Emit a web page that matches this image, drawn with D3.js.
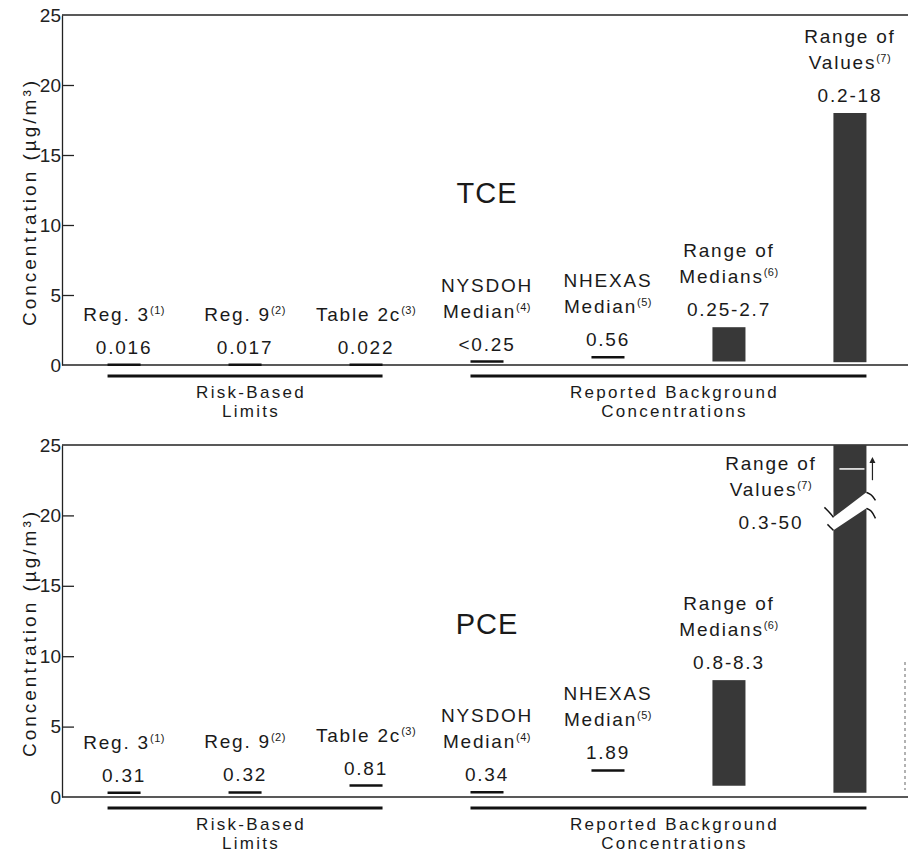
<!DOCTYPE html>
<meta charset="utf-8">
<style>
 body { margin: 0; background: #fff; }
 text {
     font-family: "Liberation Sans", Arial, sans-serif;
     fill: #1a1a1a;
 }
 .lbl { font-size: 19px; letter-spacing: 1.8px; }
 .grp { font-size: 17px; letter-spacing: 2.3px; }
 .ylab { font-size: 19px; letter-spacing: 3px; }
 .tick text { font-size: 19px; fill: #222; }
 .tick line { stroke: #222; stroke-width: 1.3px; }
 .frame { stroke: #222; stroke-width: 1.6px; fill: none; }
 .mark { stroke: #111; stroke-width: 2.5px; }
 .bar { fill: #383838; }
 .bracket { stroke: #111; stroke-width: 2.8px; }
 .brk { fill: none; stroke: #111; stroke-width: 1.5px; }
</style>

<svg class="chart"></svg>

<script src="https://cdn.jsdelivr.net/npm/d3@7"></script>

<script>

 // categories along the x axis, with their footnote numbers
 var categories = ["Reg. 3", "Reg. 9", "Table 2c", "NYSDOH Median", "NHEXAS Median", "Range of Medians", "Range of Values"];
 var nameLines = [["Reg. 3"], ["Reg. 9"], ["Table 2c"], ["NYSDOH", "Median"], ["NHEXAS", "Median"], ["Range of", "Medians"], ["Range of", "Values"]];
 var notes = ["(1)", "(2)", "(3)", "(4)", "(5)", "(6)", "(7)"];
 var isRange = [false, false, false, false, false, true, true];

 // TCE values (ug/m3)
 var tceLow = [0.016, 0.017, 0.022, 0.25, 0.56, 0.25, 0.2];
 var tceHigh = [0.016, 0.017, 0.022, 0.25, 0.56, 2.7, 18];
 var tceLabels = ["0.016", "0.017", "0.022", "<0.25", "0.56", "0.25-2.7", "0.2-18"];

 // PCE values (ug/m3)
 var pceLow = [0.31, 0.32, 0.81, 0.34, 1.89, 0.8, 0.3];
 var pceHigh = [0.31, 0.32, 0.81, 0.34, 1.89, 8.3, 50];
 var pceLabels = ["0.31", "0.32", "0.81", "0.34", "1.89", "0.8-8.3", "0.3-50"];

 var yTicks = [0, 5, 10, 15, 20, 25];
 var yMax = 25;

 // brackets grouping the categories
 var groups = [
     {lines: ["Risk-Based", "Limits"], from: 0, to: 2},
     {lines: ["Reported Background", "Concentrations"], from: 3, to: 6}
 ];

 var width = 908, height = 854;
 var left = 62, right = 908;

 var svg = d3.select(".chart").attr("width", width).attr("height", height);

 var x = d3.scaleBand().domain(categories).range([left + 2, right + 2])
           .paddingInner(0.727).paddingOuter(0.36);
 var bw = x.bandwidth();

 var panels = [
     {title: "TCE", low: tceLow, high: tceHigh, labels: tceLabels, top: 15, bottom: 365},
     {title: "PCE", low: pceLow, high: pceHigh, labels: pceLabels, top: 445, bottom: 797}
 ];

 panels.forEach(function(p) { drawPanel(p); });

 // faint scan streak at the right of the lower panel
 svg.append("line").attr("x1", 905).attr("x2", 905).attr("y1", 662).attr("y2", 790)
    .attr("stroke", "#999").attr("stroke-width", 1.5).attr("stroke-dasharray", "3,3");

 function drawPanel(p)
 {
     var y = d3.scaleLinear().domain([0, yMax]).range([p.bottom, p.top]);
     var g = svg.append("g");

     // axis with inward ticks
     var axis = d3.axisLeft(y).tickValues(yTicks).tickSize(-12).tickSizeOuter(0).tickPadding(1);
     var ax = g.append("g").attr("transform", "translate(" + left + ",0)").call(axis);
     ax.attr("font-size", null).attr("font-family", null);
     ax.select(".domain").attr("stroke", "#222").attr("stroke-width", 1.3);
     ax.selectAll(".tick").filter(function(d) { return d == 0 || d == yMax; }).select("line").remove();

     // frame lines at 0 and 25
     g.append("line").attr("class", "frame").attr("x1", left).attr("x2", right)
      .attr("y1", y(0)).attr("y2", y(0));
     g.append("line").attr("class", "frame").attr("x1", left).attr("x2", right)
      .attr("y1", y(yMax)).attr("y2", y(yMax));

     // y label
     g.append("text").attr("class", "ylab")
      .attr("transform", "translate(36," + ((p.top + p.bottom) / 2 + 12) + ") rotate(-90)")
      .attr("text-anchor", "middle")
      .text("Concentration (\u00b5g/m\u00b3)");

     // panel title
     g.append("text").attr("x", x("NYSDOH Median") + bw / 2).attr("y", y(12.3) + 10)
      .attr("text-anchor", "middle").style("font-size", "29px").style("letter-spacing", "1px")
      .text(p.title);

     var idx = d3.range(categories.length);

     // single values: short horizontal lines
     g.selectAll(".mark").data(idx.filter(function(i) { return !isRange[i]; })).enter()
      .append("line").attr("class", "mark")
      .attr("x1", function(i) { return x(categories[i]); })
      .attr("x2", function(i) { return x(categories[i]) + bw; })
      .attr("y1", function(i) { return y(p.high[i]); })
      .attr("y2", function(i) { return y(p.high[i]); });

     // ranges: bars, with a break if over the axis max
     idx.filter(function(i) { return isRange[i]; }).forEach(function(i) {
         var x0 = x(categories[i]), x1 = x0 + bw;
         var yb = y(p.low[i]);
         if (p.high[i] <= yMax) {
             g.append("rect").attr("class", "bar").attr("x", x0).attr("width", bw)
              .attr("y", y(p.high[i])).attr("height", yb - y(p.high[i]));
         } else {
             var yk = y(20.5);
             g.append("path").attr("class", "bar")
              .attr("d", "M" + x0 + "," + y(yMax) + "H" + x1 + "V" + (yk - 16) + "L" + x0 + "," + (yk + 9) + "Z");
             g.append("path").attr("class", "bar")
              .attr("d", "M" + x0 + "," + (yk + 22) + "L" + x1 + "," + yk + "V" + yb + "H" + x0 + "Z");
             var brk = d3.line().curve(d3.curveBasis);
             g.append("path").attr("class", "brk").attr("d", brk([[x0 - 9, yk - 1], [x0 - 2, yk + 6], [x0, yk + 9]]));
             g.append("path").attr("class", "brk").attr("d", brk([[x1, yk - 16], [x1 + 5, yk - 14], [x1 + 9, yk - 8]]));
             g.append("path").attr("class", "brk").attr("d", brk([[x0 - 6, yk + 16], [x0 - 2, yk + 20], [x0, yk + 22]]));
             g.append("path").attr("class", "brk").attr("d", brk([[x1, yk], [x1 + 5, yk + 2], [x1 + 9, yk + 10]]));
             // white streak and arrow at the top
             g.append("line").attr("x1", x0 + 6).attr("x2", x1 - 2)
              .attr("y1", y(23.3)).attr("y2", y(23.3)).attr("stroke", "#fff").attr("stroke-width", 1.5);
             g.append("line").attr("x1", x1 + 6).attr("x2", x1 + 6)
              .attr("y1", y(22.5)).attr("y2", y(24)).attr("stroke", "#222").attr("stroke-width", 1.2);
             g.append("path").attr("fill", "#222")
              .attr("d", "M" + (x1 + 3) + "," + (y(24) + 4) + "L" + (x1 + 6) + "," + (y(24) - 2) + "L" + (x1 + 9) + "," + (y(24) + 4) + "Z");
         }
     });

     // labels: value under the name, above the mark
     idx.forEach(function(i) {
         var cx = x(categories[i]) + bw / 2;
         var vy = y(p.high[i]) - 11;
         if (p.high[i] > yMax) {
             cx = cx - 79;
             vy = y(yMax) + 84;
         }
         g.append("text").attr("class", "lbl").attr("x", cx).attr("y", vy)
          .attr("text-anchor", "middle").text(p.labels[i]);
         var lines = nameLines[i];
         lines.forEach(function(s, k) {
             var ly = vy - 33 - (lines.length - 1 - k) * 26;
             var t = g.append("text").attr("class", "lbl").attr("x", cx).attr("y", ly)
                      .attr("text-anchor", "middle");
             t.append("tspan").text(s);
             if (k == lines.length - 1) {
                 t.append("tspan").attr("dy", -7).style("font-size", "11px")
                  .style("letter-spacing", "0.5px").text(notes[i]);
             }
         });
     });

     // group brackets under the axis
     groups.forEach(function(gr) {
         var gx0 = x(categories[gr.from]), gx1 = x(categories[gr.to]) + bw;
         var by = y(0) + 11;
         g.append("line").attr("class", "bracket").attr("x1", gx0).attr("x2", gx1)
          .attr("y1", by).attr("y2", by);
         gr.lines.forEach(function(s, k) {
             g.append("text").attr("class", "grp").attr("x", (gx0 + gx1) / 2 + 6)
              .attr("y", by + 22 + k * 19).attr("text-anchor", "middle").text(s);
         });
     });
 }

</script>
